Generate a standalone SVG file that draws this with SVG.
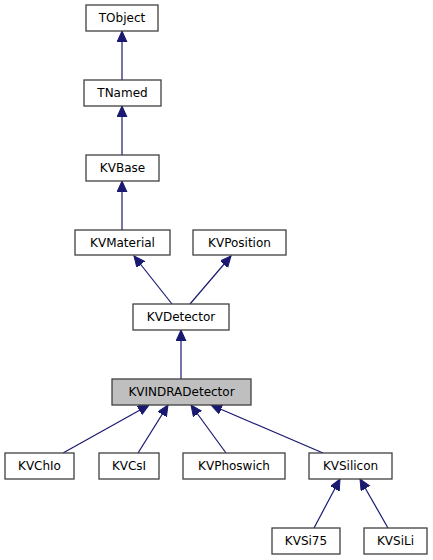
<svg xmlns="http://www.w3.org/2000/svg" width="433" height="560" viewBox="0 0 433 560">
<style>
.n rect{fill:#ffffff;stroke:#404040;stroke-width:1.3}
.n.h rect{fill:#bfbfbf}
.n text{font-family:"DejaVu Sans",sans-serif;font-size:12px;fill:#000000;text-anchor:middle}
#edges line{stroke:#191970;stroke-width:1.2;marker-end:url(#ah)}
</style>
<defs>
<marker id="ah" markerUnits="userSpaceOnUse" markerWidth="12" markerHeight="11" refX="11" refY="5" orient="auto">
<path d="M0,0 L11,5 L0,10 Z" fill="#191970" stroke="#191970"/>
</marker>
</defs>
<rect width="433" height="560" fill="#ffffff"/>
<g id="edges">
<line x1="122" y1="80" x2="122" y2="31"/>
<line x1="122" y1="155" x2="122" y2="106"/>
<line x1="122" y1="230" x2="122" y2="181"/>
<line x1="172" y1="304" x2="134" y2="256"/>
<line x1="190" y1="304" x2="231" y2="256"/>
<line x1="181" y1="379" x2="181" y2="330"/>
<line x1="63" y1="453" x2="149" y2="405"/>
<line x1="138" y1="453" x2="168" y2="405"/>
<line x1="226" y1="453" x2="191" y2="405"/>
<line x1="323" y1="453" x2="211" y2="405"/>
<line x1="314" y1="528" x2="340" y2="479"/>
<line x1="388" y1="528" x2="360" y2="479"/>
</g>
<g id="TObject" class="n"><rect x="86" y="5" width="72" height="26"/><text x="122" y="22">TObject</text></g>
<g id="TNamed" class="n"><rect x="84" y="80" width="77" height="26"/><text x="122.5" y="97">TNamed</text></g>
<g id="KVBase" class="n"><rect x="86" y="155" width="73" height="26"/><text x="122.5" y="172">KVBase</text></g>
<g id="KVMaterial" class="n"><rect x="75" y="230" width="95" height="25"/><text x="122.5" y="246.5">KVMaterial</text></g>
<g id="KVPosition" class="n"><rect x="193" y="230" width="93" height="25"/><text x="239.5" y="246.5">KVPosition</text></g>
<g id="KVDetector" class="n"><rect x="133" y="304" width="96" height="26"/><text x="181" y="321">KVDetector</text></g>
<g id="KVINDRADetector" class="n h"><rect x="112" y="379" width="139" height="26"/><text x="181.5" y="396">KVINDRADetector</text></g>
<g id="KVChIo" class="n"><rect x="5" y="453" width="69" height="26"/><text x="39.5" y="470">KVChIo</text></g>
<g id="KVCsI" class="n"><rect x="99" y="453" width="60" height="26"/><text x="129" y="470">KVCsI</text></g>
<g id="KVPhoswich" class="n"><rect x="183" y="453" width="102" height="26"/><text x="234" y="470">KVPhoswich</text></g>
<g id="KVSilicon" class="n"><rect x="309" y="453" width="83" height="26"/><text x="350.5" y="470">KVSilicon</text></g>
<g id="KVSi75" class="n"><rect x="272" y="528" width="68" height="26"/><text x="306" y="545">KVSi75</text></g>
<g id="KVSiLi" class="n"><rect x="364" y="528" width="63" height="26"/><text x="395.5" y="545">KVSiLi</text></g>
</svg>
